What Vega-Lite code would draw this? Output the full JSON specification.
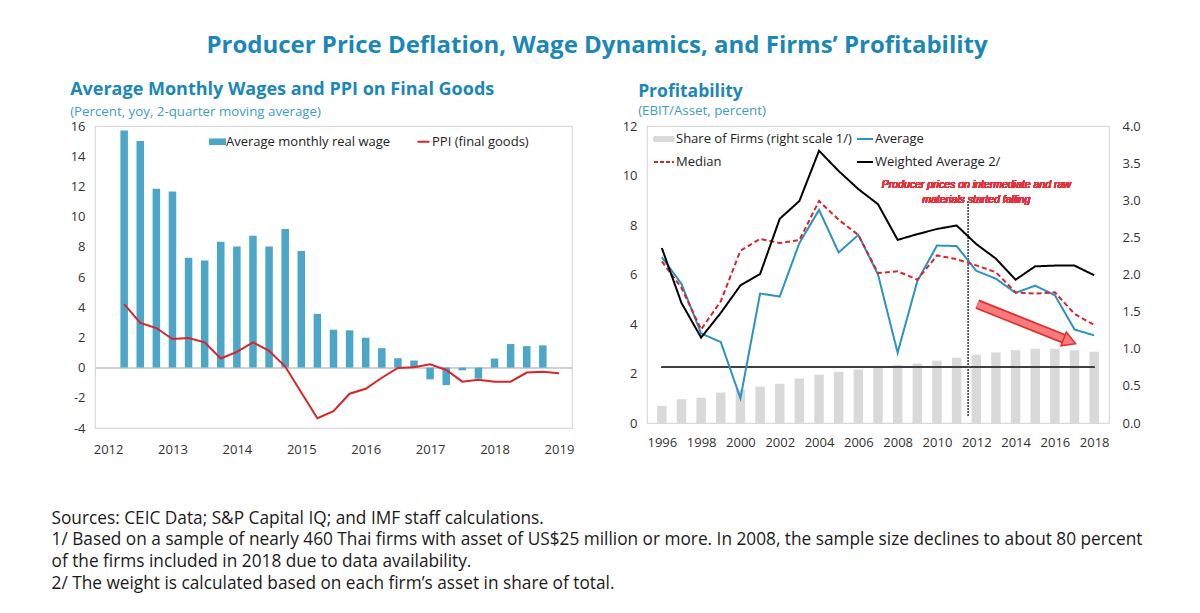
{
  "$schema": "https://vega.github.io/schema/vega-lite/v6.json",
  "background": "white",
  "padding": {"left": 51, "top": 34, "right": 20, "bottom": 10},
  "config": {
    "font": "Open Sans",
    "view": {"stroke": "#d9d9d9", "strokeWidth": 1.2},
    "axis": {"labelFontSize": 13, "labelColor": "#333333", "grid": false, "ticks": false, "domain": false, "title": null, "labelOverlap": false}
  },
  "title": {
    "text": "Producer Price Deflation, Wage Dynamics, and Firms’ Profitability",
    "fontSize": 24,
    "fontWeight": "bold",
    "color": "#1b87b8",
    "anchor": "middle",
    "offset": 22
  },
  "datasets": {
    "wages": [
      {"t": 2012.25, "wage": 15.7, "ppi": 4.2},
      {"t": 2012.5, "wage": 15.0, "ppi": 2.96},
      {"t": 2012.75, "wage": 11.84, "ppi": 2.62},
      {"t": 2013.0, "wage": 11.67, "ppi": 1.89},
      {"t": 2013.25, "wage": 7.27, "ppi": 1.96},
      {"t": 2013.5, "wage": 7.09, "ppi": 1.67},
      {"t": 2013.75, "wage": 8.33, "ppi": 0.6},
      {"t": 2014.0, "wage": 8.02, "ppi": 1.04},
      {"t": 2014.25, "wage": 8.73, "ppi": 1.67},
      {"t": 2014.5, "wage": 8.02, "ppi": 1.11},
      {"t": 2014.75, "wage": 9.18, "ppi": 0.07},
      {"t": 2015.0, "wage": 7.73, "ppi": -1.65},
      {"t": 2015.25, "wage": 3.56, "ppi": -3.35},
      {"t": 2015.5, "wage": 2.51, "ppi": -2.89},
      {"t": 2015.75, "wage": 2.47, "ppi": -1.73},
      {"t": 2016.0, "wage": 1.98, "ppi": -1.4},
      {"t": 2016.25, "wage": 1.29, "ppi": -0.67},
      {"t": 2016.5, "wage": 0.62, "ppi": -0.02},
      {"t": 2016.75, "wage": 0.47, "ppi": 0.02},
      {"t": 2017.0, "wage": -0.78, "ppi": 0.22},
      {"t": 2017.25, "wage": -1.16, "ppi": -0.16},
      {"t": 2017.5, "wage": -0.18, "ppi": -0.93},
      {"t": 2017.75, "wage": -0.73, "ppi": -0.8},
      {"t": 2018.0, "wage": 0.6, "ppi": -0.93},
      {"t": 2018.25, "wage": 1.56, "ppi": -0.93},
      {"t": 2018.5, "wage": 1.42, "ppi": -0.33},
      {"t": 2018.75, "wage": 1.47, "ppi": -0.27},
      {"t": 2019.0, "wage": null, "ppi": -0.38}
    ],
    "profit": [
      {"year": 1996, "share": 0.23, "avg": 6.7, "med": 6.53, "wavg": 7.07},
      {"year": 1997, "share": 0.32, "avg": 5.62, "med": 5.46, "wavg": 4.85},
      {"year": 1998, "share": 0.34, "avg": 3.62, "med": 3.78, "wavg": 3.45},
      {"year": 1999, "share": 0.41, "avg": 3.27, "med": 4.92, "wavg": 4.45},
      {"year": 2000, "share": 0.45, "avg": 1.0, "med": 6.96, "wavg": 5.56},
      {"year": 2001, "share": 0.49, "avg": 5.23, "med": 7.44, "wavg": 6.02},
      {"year": 2002, "share": 0.53, "avg": 5.11, "med": 7.27, "wavg": 8.25},
      {"year": 2003, "share": 0.6, "avg": 7.27, "med": 7.39, "wavg": 8.97},
      {"year": 2004, "share": 0.65, "avg": 8.61, "med": 8.97, "wavg": 11.0},
      {"year": 2005, "share": 0.69, "avg": 6.89, "med": 8.21, "wavg": 10.18},
      {"year": 2006, "share": 0.72, "avg": 7.6, "med": 7.6, "wavg": 9.45},
      {"year": 2007, "share": 0.75, "avg": 6.0, "med": 6.06, "wavg": 8.84},
      {"year": 2008, "share": 0.78, "avg": 2.84, "med": 6.13, "wavg": 7.4},
      {"year": 2009, "share": 0.8, "avg": 5.73, "med": 5.79, "wavg": 7.63},
      {"year": 2010, "share": 0.84, "avg": 7.17, "med": 6.77, "wavg": 7.84},
      {"year": 2011, "share": 0.88, "avg": 7.15, "med": 6.62, "wavg": 7.98},
      {"year": 2012, "share": 0.92, "avg": 6.15, "med": 6.37, "wavg": 7.23},
      {"year": 2013, "share": 0.95, "avg": 5.83, "med": 6.09, "wavg": 6.64},
      {"year": 2014, "share": 0.98, "avg": 5.26, "med": 5.28, "wavg": 5.79},
      {"year": 2015, "share": 1.0, "avg": 5.55, "med": 5.23, "wavg": 6.33},
      {"year": 2016, "share": 1.0, "avg": 5.16, "med": 5.28, "wavg": 6.36},
      {"year": 2017, "share": 0.98, "avg": 3.78, "med": 4.41, "wavg": 6.36},
      {"year": 2018, "share": 0.96, "avg": 3.54, "med": 3.96, "wavg": 5.97}
    ],
    "arrow": [
      {"x": 2012.05, "y": 4.8, "x2": 2016.5, "y2": 3.39, "hx": 2016.75, "hy": 3.3}
    ]
  },
  "vconcat": [
    {
      "title": {
        "text": [
          "Sources: CEIC Data; S&P Capital IQ; and IMF staff calculations.",
          "1/ Based on a sample of nearly 460 Thai firms with asset of US$25 million or more. In 2008, the sample size declines to about 80 percent",
          "of the firms included in 2018 due to data availability.",
          "2/ The weight is calculated based on each firm’s asset in share of total."
        ],
        "orient": "bottom",
        "anchor": "start",
        "frame": "bounds",
        "align": "left",
        "fontSize": 17.25,
        "fontWeight": "normal",
        "color": "#1a1a1a",
        "lineHeight": 21.7,
        "offset": 53,
        "dx": -18
      },
      "spacing": 46,
      "resolve": {"scale": {"color": "independent", "strokeDash": "independent"}, "legend": {"color": "independent"}},
      "hconcat": [
        {
          "width": 477,
          "height": 302,
          "title": {
            "text": "Average Monthly Wages and PPI on Final Goods",
            "subtitle": "(Percent, yoy, 2-quarter moving average)",
            "anchor": "start",
            "frame": "bounds",
            "fontSize": 18,
            "fontWeight": "bold",
            "color": "#1b87b8",
            "subtitleColor": "#3d9dc9",
            "subtitleFontSize": 13.3,
            "subtitlePadding": 6,
            "offset": 2
          },
          "data": {"name": "wages"},
          "encoding": {
            "y": {
              "type": "quantitative",
              "scale": {"domain": [-4, 16], "nice": false},
              "axis": {"values": [-4, -2, 0, 2, 4, 6, 8, 10, 12, 14, 16], "labelPadding": 10, "labelOverlap": false, "labelExpr": "replace(datum.label, '−', '-')"}
            },
            "x": {
              "type": "quantitative",
              "scale": {"domain": [2011.875, 2019.125], "nice": false, "zero": false},
              "axis": {"values": [2012, 2013, 2014, 2015, 2016, 2017, 2018, 2019], "format": "d", "labelPadding": 15}
            }
          },
          "layer": [
            {
              "mark": {"type": "rule", "color": "#d0d0d0", "strokeWidth": 1.2},
              "encoding": {"y": {"datum": 0, "type": "quantitative"}, "x": null}
            },
            {
              "mark": {"type": "bar", "size": 7.5},
              "encoding": {
                "x": {"field": "t", "type": "quantitative"},
                "y": {"field": "wage", "type": "quantitative"},
                "color": {"datum": "Average monthly real wage"}
              }
            },
            {
              "mark": {"type": "line", "strokeWidth": 2},
              "encoding": {
                "x": {"field": "t", "type": "quantitative"},
                "y": {"field": "ppi", "type": "quantitative"},
                "color": {
                  "datum": "PPI (final goods)",
                  "scale": {"domain": ["Average monthly real wage", "PPI (final goods)"], "range": ["#4ba6c8", "#d9252a"]},
                  "legend": {
                    "title": null,
                    "orient": "none",
                    "legendX": 114,
                    "legendY": 7,
                    "direction": "horizontal",
                    "columnPadding": 22,
                    "labelFontSize": 13,
                    "labelColor": "#222222",
                    "labelOffset": 0,
                    "labelLimit": 300,
                    "symbolSize": 225,
                    "encode": {
                      "symbols": {
                        "update": {
                          "shape": {"signal": "datum.value === 'PPI (final goods)' ? 'M-0.8,0H0.8' : 'M-1,-0.3H1V0.3H-1Z'"},
                          "fill": {"signal": "datum.value === 'PPI (final goods)' ? 'transparent' : '#4ba6c8'"},
                          "stroke": {"signal": "datum.value === 'PPI (final goods)' ? '#d9252a' : 'transparent'"},
                          "strokeWidth": {"value": 2},
                          "opacity": {"value": 1}
                        }
                      }
                    }
                  }
                }
              }
            }
          ]
        },
        {
          "width": 462,
          "height": 297,
          "title": {
            "text": "Profitability",
            "subtitle": "(EBIT/Asset, percent)",
            "anchor": "start",
            "frame": "bounds",
            "dx": 16,
            "fontSize": 17.5,
            "fontWeight": "bold",
            "color": "#1b87b8",
            "subtitleColor": "#3d9dc9",
            "subtitleFontSize": 13.3,
            "subtitlePadding": 3,
            "offset": 3
          },
          "data": {"name": "profit"},
          "resolve": {"scale": {"y": "independent"}},
          "layer": [
            {
              "mark": {"type": "bar", "size": 9.5},
              "encoding": {
                "x": {
                  "field": "year",
                  "type": "quantitative",
                  "scale": {"domain": [1995.5, 2018.5], "nice": false, "zero": false},
                  "axis": {"values": [1996, 1998, 2000, 2002, 2004, 2006, 2008, 2010, 2012, 2014, 2016, 2018], "format": "d", "labelPadding": 13}
                },
                "y": {
                  "field": "share",
                  "type": "quantitative",
                  "scale": {"domain": [0, 4], "nice": false},
                  "axis": {"orient": "right", "values": [0, 0.5, 1, 1.5, 2, 2.5, 3, 3.5, 4], "format": ".1f", "labelPadding": 13}
                },
                "color": {"datum": "share"}
              }
            },
            {
              "layer": [
                {
                  "mark": {"type": "rule", "color": "#404040", "strokeWidth": 1.2},
                  "encoding": {
                    "x": {"datum": 1996, "type": "quantitative"},
                    "x2": {"datum": 2018},
                    "y": {"datum": 2.25, "type": "quantitative"}
                  }
                },
                {
                  "mark": {"type": "rule", "color": "#555555", "strokeWidth": 1, "strokeDash": [1, 2]},
                  "encoding": {
                    "x": {"datum": 2011.6, "type": "quantitative"},
                    "y": {"datum": 0.3, "type": "quantitative"},
                    "y2": {"datum": 9}
                  }
                },
                {
                  "transform": [{"fold": ["avg", "med", "wavg"], "as": ["series", "value"]}],
                  "mark": {"type": "line", "strokeWidth": 2},
                  "encoding": {
                    "x": {"field": "year", "type": "quantitative"},
                    "y": {
                      "field": "value",
                      "type": "quantitative",
                      "scale": {"domain": [0, 12], "nice": false},
                      "axis": {"orient": "left", "values": [0, 2, 4, 6, 8, 10, 12], "labelPadding": 10}
                    },
                    "color": {
                      "field": "series",
                      "type": "nominal",
                      "scale": {"domain": ["share", "avg", "med", "wavg"], "range": ["#d9d9d9", "#2a93bf", "#d9252a", "#000000"]},
                      "legend": {
                        "title": null,
                        "orient": "none",
                        "legendX": 6,
                        "legendY": 2,
                        "direction": "horizontal",
                        "columns": 2,
                        "columnPadding": 0,
                        "rowPadding": 5,
                        "labelFontSize": 13,
                        "labelColor": "#222222",
                        "labelOffset": 1,
                        "labelLimit": 300,
                        "symbolSize": 400,
                        "labelExpr": "datum.value === 'share' ? 'Share of Firms (right scale 1/)' : datum.value === 'avg' ? 'Average' : datum.value === 'med' ? 'Median' : 'Weighted Average 2/'",
                        "encode": {
                          "symbols": {
                            "update": {
                              "shape": {"signal": "datum.value === 'share' ? 'M-1,-0.2H1V0.2H-1Z' : datum.value === 'med' ? 'M-1,0H1' : 'M-0.6,0H1'"},
                              "fill": {"signal": "datum.value === 'share' ? '#d9d9d9' : 'transparent'"},
                              "stroke": {"signal": "datum.value === 'share' ? 'transparent' : datum.value === 'avg' ? '#2a93bf' : datum.value === 'med' ? '#d9252a' : '#000000'"},
                              "strokeDash": {"signal": "datum.value === 'med' ? [4, 2] : [1, 0]"},
                              "strokeWidth": {"value": 2},
                              "opacity": {"value": 1}
                            }
                          }
                        }
                      }
                    },
                    "strokeDash": {
                      "field": "series",
                      "type": "nominal",
                      "scale": {"domain": ["avg", "med", "wavg"], "range": [[1, 0], [5, 3], [1, 0]]},
                      "legend": null
                    }
                  }
                },
                {
                  "mark": {
                    "type": "text",
                    "text": ["Producer prices on intermediate and raw", "materials started falling"],
                    "color": "#e8303a",
                    "font": "Liberation Sans",
                    "fontStyle": "italic",
                    "fontSize": 10.5,
                    "lineHeight": 15,
                    "align": "center",
                    "baseline": "middle"
                  },
                  "encoding": {
                    "x": {"datum": 2012.0, "type": "quantitative"},
                    "y": {"datum": 9.6, "type": "quantitative"}
                  }
                },
                {
                  "data": {"name": "arrow"},
                  "mark": {"type": "rule", "color": "#e0302f", "strokeWidth": 10, "strokeCap": "butt"},
                  "encoding": {
                    "x": {"field": "x", "type": "quantitative"},
                    "y": {"field": "y", "type": "quantitative"},
                    "x2": {"field": "x2"},
                    "y2": {"field": "y2"}
                  }
                },
                {
                  "data": {"name": "arrow"},
                  "mark": {"type": "rule", "color": "#f87a7a", "strokeWidth": 6.5, "strokeCap": "butt"},
                  "encoding": {
                    "x": {"field": "x", "type": "quantitative"},
                    "y": {"field": "y", "type": "quantitative"},
                    "x2": {"field": "x2"},
                    "y2": {"field": "y2"}
                  }
                },
                {
                  "data": {"name": "arrow"},
                  "mark": {"type": "point", "shape": "triangle-right", "filled": true, "size": 220, "angle": 21.6, "fill": "#f87a7a", "stroke": "#e0302f", "strokeWidth": 1.5, "opacity": 1},
                  "encoding": {
                    "x": {"field": "hx", "type": "quantitative"},
                    "y": {"field": "hy", "type": "quantitative"}
                  }
                }
              ]
            }
          ]
        }
      ]
    }
  ]
}
